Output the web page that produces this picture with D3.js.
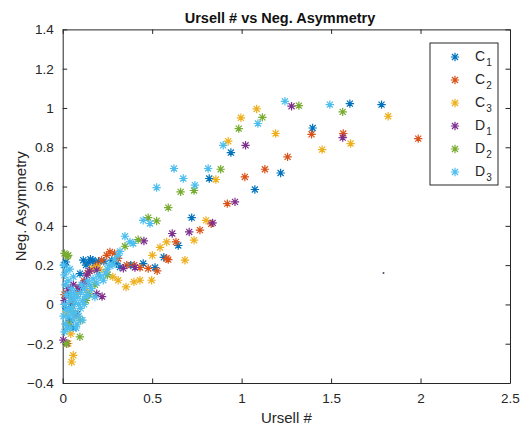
<!DOCTYPE html>
<html lang="en">
<head>
<meta charset="UTF-8">
<title>Ursell # vs Neg. Asymmetry</title>
<script src="https://d3js.org/d3.v7.min.js"></script>
<style>
  *{padding:0; margin:0; box-sizing:border-box;}
  body{background:#fff;}
  text{font-family:"Liberation Sans", Arial, Helvetica, sans-serif; fill:#262626;}
  .tick text{font-size:13.5px;}
  .mark path{fill:none; stroke-width:1.2;}
</style>
</head>
<body>
<script>
// series names + colours (matlab defaults)
const names = ["C1", "C2", "C3", "D1", "D2", "D3"];
const colors = ["#0072BD", "#D95319", "#EDB120", "#7E2F8E", "#77AC30", "#4DBEEE"];

// [ursell, neg. asymmetry]
const C1 = [[0.01,0.20],[0.018,0.216],[0.03,0.05],[0.02,-0.02],[0.04,-0.08],[0.05,0.00],[0.06,-0.12],[0.08,-0.05],
  [0.097,0.157],[0.115,0.225],[0.13,0.20],[0.143,0.214],[0.155,0.23],[0.168,0.225],[0.18,0.21],[0.20,0.22],[0.23,0.22],
  [0.274,0.225],[0.30,0.21],[0.32,0.19],[0.38,0.20],[0.45,0.208],[0.516,0.188],[0.565,0.24],[0.646,0.30],[0.721,0.442],
  [0.819,0.641],[0.94,0.773],[1.074,0.585],[1.218,0.669],[1.397,0.898],[1.605,1.022],[1.782,1.017]];
const C2 = [[0.01,0.05],[0.03,-0.10],[0.05,0.02],[0.07,-0.05],[0.09,0.08],[0.12,0.12],[0.14,0.16],[0.162,0.178],
  [0.19,0.20],[0.218,0.225],[0.246,0.25],[0.264,0.267],[0.29,0.26],[0.31,0.234],[0.358,0.20],[0.40,0.20],[0.432,0.188],
  [0.478,0.183],[0.528,0.171],[0.581,0.234],[0.59,0.228],[0.633,0.318],[0.767,0.378],[0.83,0.41],[0.92,0.513],
  [1.018,0.649],[1.13,0.688],[1.257,0.751],[1.391,0.866],[1.568,0.87],[1.987,0.844]];
const C3 = [[0.02,-0.05],[0.031,-0.199],[0.05,-0.293],[0.059,-0.259],[0.045,-0.15],[0.08,0.05],[0.134,0.072],[0.16,0.18],
  [0.19,0.19],[0.208,0.178],[0.246,0.165],[0.28,0.14],[0.31,0.123],[0.354,0.089],[0.398,0.115],[0.432,0.123],[0.497,0.123],
  [0.501,0.25],[0.544,0.29],[0.581,0.318],[0.683,0.225],[0.734,0.327],[0.801,0.428],[0.856,0.636],[0.925,0.831],
  [0.996,0.95],[1.084,0.995],[1.19,0.87],[1.45,0.788],[1.609,0.819],[1.819,0.958]];
const D1 = [[0.004,-0.182],[0.022,-0.199],[0.01,0.02],[0.03,0.08],[0.06,0.10],[0.085,0.081],[0.106,0.089],[0.12,0.11],
  [0.134,0.149],[0.15,0.17],[0.19,0.174],[0.19,0.055],[0.22,0.04],[0.339,0.184],[0.404,0.188],[0.454,0.323],
  [0.612,0.361],[0.707,0.369],[0.838,0.415],[0.963,0.522],[1.022,0.81],[1.279,1.009],[1.565,0.849]];
const D2 = [[0.01,0.26],[0.026,0.245],[0.031,0.25],[0.02,-0.20],[0.03,-0.10],[0.05,-0.03],[0.096,-0.165],[0.10,-0.08],
  [0.13,0.02],[0.15,0.05],[0.18,0.10],[0.25,0.15],[0.348,0.296],[0.422,0.33],[0.478,0.442],[0.525,0.425],[0.59,0.493],
  [0.659,0.573],[0.734,0.58],[0.883,0.688],[0.984,0.895],[1.116,0.952],[1.32,1.012],[1.565,0.98]];
const D3 = [[0.005,0.20],[0.01,0.15],[0.015,0.10],[0.02,0.05],[0.01,0.0],[0.02,-0.03],[0.03,-0.06],[0.015,-0.10],
  [0.01,-0.14],[0.04,0.02],[0.05,-0.02],[0.06,0.03],[0.04,-0.12],[0.07,0.01],[0.08,0.04],[0.09,0.00],[0.10,0.06],
  [0.11,0.02],[0.06,-0.08],[0.08,-0.10],[0.12,0.08],[0.14,0.05],[0.15,0.10],[0.18,0.038],[0.17,0.13],[0.20,0.15],
  [0.03,0.12],[0.04,0.18],[0.05,0.08],[0.06,0.14],[0.07,-0.04],[0.09,-0.06],[0.10,-0.02],[0.11,-0.08],[0.12,0.00],
  [0.13,0.04],[0.02,0.17],[0.035,-0.02],[0.045,0.05],[0.055,-0.05],[0.065,0.06],[0.075,-0.12],[0.025,-0.12],
  [0.005,-0.06],[0.16,0.08],[0.19,0.11],[0.21,0.14],[0.24,0.16],[0.26,0.20],[0.29,0.23],[0.14,0.12],[0.105,0.10],
  [0.227,0.123],[0.25,0.18],[0.28,0.20],[0.31,0.25],[0.32,0.27],[0.348,0.347],[0.376,0.318],[0.394,0.31],[0.45,0.428],
  [0.488,0.412],[0.525,0.595],[0.622,0.692],[0.674,0.641],[0.739,0.607],[0.813,0.692],[0.897,0.81],[1.091,0.921],
  [1.242,1.034],[1.493,1.017]];
const stray = [[1.793,0.16]];

const xTicks = [0, 0.5, 1, 1.5, 2, 2.5];
const yTicks = [-0.4, -0.2, 0, 0.2, 0.4, 0.6, 0.8, 1, 1.2, 1.4];

const series = [C1, C2, C3, D1, D2, D3];

const W = 524, H = 429;
const m = {left: 62.7, right: 14, top: 29.4, bottom: 46};
const pw = W - m.left - m.right, ph = H - m.top - m.bottom;

const svg = d3.select("body").append("svg").attr("width", W).attr("height", H);
const g = svg.append("g").attr("transform", `translate(${m.left},${m.top})`);

const x = d3.scaleLinear().domain([0, 2.5]).range([0, pw]);
const y = d3.scaleLinear().domain([-0.4, 1.4]).range([ph, 0]);

// axes, ticks pointing inward
const fmt = d => d3.format("")(+d.toFixed(1));
g.append("g").attr("transform", `translate(0,${ph})`)
  .call(d3.axisBottom(x).tickValues(xTicks).tickFormat(fmt).tickSizeInner(-4.5).tickSizeOuter(0).tickPadding(10));
g.append("g")
  .call(d3.axisLeft(y).tickValues(yTicks).tickFormat(fmt).tickSizeInner(-4.5).tickSizeOuter(0).tickPadding(9));
g.append("g")
  .call(d3.axisTop(x).tickValues(xTicks).tickFormat("").tickSizeInner(-4.5).tickSizeOuter(0));
g.append("g").attr("transform", `translate(${pw},0)`)
  .call(d3.axisRight(y).tickValues(yTicks).tickFormat("").tickSizeInner(-4.5).tickSizeOuter(0));
g.selectAll(".domain, .tick line").attr("stroke", "#262626");
g.selectAll(".tick text").attr("fill", "#333");

// asterisk marker like matlab '*'
function star(r) {
  const d = r * 0.72;
  return `M${-r},0H${r}M0,${-r}V${r}M${-d},${-d}L${d},${d}M${-d},${d}L${d},${-d}`;
}

series.forEach((s, i) => {
  g.append("g").attr("class", "mark")
    .selectAll("path").data(s).enter().append("path")
    .attr("d", star(4.2))
    .attr("stroke", colors[i])
    .attr("transform", d => `translate(${x(d[0])},${y(d[1])})`);
});

g.selectAll(".stray").data(stray).enter().append("circle")
  .attr("cx", d => x(d[0])).attr("cy", d => y(d[1])).attr("r", 1)
  .attr("fill", "#4a4a6a");

// title + axis labels
svg.append("text").attr("x", 280).attr("y", 23).attr("text-anchor", "middle")
  .style("font-size", "14.5px").style("font-weight", "bold").style("fill", "#111")
  .text("Ursell # vs Neg. Asymmetry");
svg.append("text").attr("x", m.left + pw / 2).attr("y", 423).attr("text-anchor", "middle")
  .style("font-size", "15px").text("Ursell #");
svg.append("text").attr("transform", `translate(26,${m.top + ph / 2}) rotate(-90)`)
  .attr("text-anchor", "middle").style("font-size", "15px").text("Neg. Asymmetry");

// legend
const lg = svg.append("g").attr("transform", "translate(430,43)");
lg.append("rect").attr("width", 68).attr("height", 142)
  .attr("fill", "#fff").attr("stroke", "#262626").attr("stroke-width", 1);
names.forEach((n, i) => {
  const row = lg.append("g").attr("transform", `translate(0,${14 + i * 23})`);
  row.append("path").attr("class", "mark").attr("d", star(4.2))
    .attr("transform", "translate(25,0)").attr("stroke", colors[i])
    .attr("fill", "none").attr("stroke-width", 1.2);
  const t = row.append("text").attr("x", 45).attr("y", 4).style("font-size", "14px");
  t.append("tspan").text(n[0]);
  t.append("tspan").attr("dx", 1).attr("dy", 5).style("font-size", "10px").text(n.slice(1));
});
</script>
</body>
</html>
